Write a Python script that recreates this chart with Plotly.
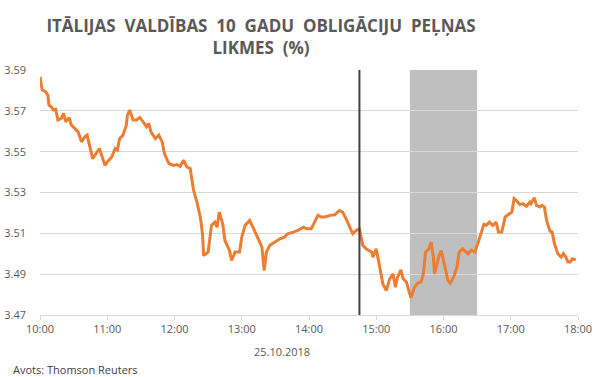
import pandas as pd
import plotly.graph_objects as go

# minutes after 10:00 on 25.10.2018 and yield values (%)
minutes = [0, 2, 5, 7, 8, 10, 12, 14, 16, 19, 21, 23, 26, 28, 31, 34, 37, 40, 42, 45,
           47, 50, 53, 55, 58, 60, 64, 67, 69, 71, 74, 77, 78, 80, 83, 86, 89, 92, 95, 97,
           99, 103, 106, 109, 111, 115, 119, 122, 125, 128, 131, 134, 137, 140, 143, 145, 146, 150, 153, 156,
           158, 160, 163, 165, 169, 171, 174, 178, 180, 183, 187, 190, 195, 198, 200, 202, 205, 210, 214, 218,
           221, 226, 230, 235, 238, 242, 245, 248, 251, 254, 259, 263, 267, 270, 273, 276, 279, 282, 285, 288,
           291, 296, 297, 300, 302, 306, 309, 312, 315, 317, 319, 322, 324, 327, 329, 331, 334, 337, 340, 342,
           344, 347, 349, 351, 352, 354, 356, 358, 361, 364, 366, 369, 372, 374, 377, 380, 382, 385, 388, 391,
           394, 396, 398, 401, 404, 407, 409, 412, 415, 418, 421, 423, 425, 428, 431, 434, 437, 438, 441, 443,
           446, 448, 450, 452, 455, 457, 459, 462, 465, 467, 469, 471, 473, 475, 478]
yields = [3.5867, 3.5802, 3.5794, 3.5777, 3.5728, 3.5720, 3.5704, 3.5707, 3.5655, 3.5663, 3.5687, 3.5646, 3.5667, 3.5630, 3.5614, 3.5597, 3.5548, 3.5573, 3.5581, 3.5515,
          3.5466, 3.5491, 3.5515, 3.5483, 3.5433, 3.5450, 3.5474, 3.5515, 3.5507, 3.5564, 3.5581, 3.5630, 3.5679, 3.5704, 3.5655, 3.5655, 3.5667, 3.5646, 3.5622, 3.5638,
          3.5597, 3.5564, 3.5581, 3.5548, 3.5491, 3.5442, 3.5433, 3.5437, 3.5428, 3.5458, 3.5425, 3.5417, 3.5311, 3.5253, 3.5180, 3.5098, 3.4991, 3.5008, 3.5139, 3.5155,
          3.5130, 3.5204, 3.5147, 3.5065, 3.5016, 3.4967, 3.5008, 3.5008, 3.5081, 3.5139, 3.5163, 3.5130, 3.5073, 3.5032, 3.4918, 3.5008, 3.5041, 3.5057, 3.5073, 3.5081,
          3.5098, 3.5106, 3.5114, 3.5130, 3.5122, 3.5122, 3.5155, 3.5188, 3.5180, 3.5180, 3.5188, 3.5191, 3.5212, 3.5204, 3.5172, 3.5130, 3.5098, 3.5114, 3.5122, 3.5041,
          3.5024, 3.5008, 3.4983, 3.5024, 3.4967, 3.4850, 3.4820, 3.4877, 3.4901, 3.4836, 3.4885, 3.4921, 3.4877, 3.4860, 3.4820, 3.4784, 3.4836, 3.4856, 3.4861, 3.4901,
          3.5008, 3.5024, 3.5057, 3.4983, 3.4901, 3.4950, 3.4990, 3.5016, 3.4950, 3.4869, 3.4856, 3.4885, 3.4934, 3.5008, 3.5024, 3.5008, 3.4999, 3.5018, 3.5008, 3.5057,
          3.5114, 3.5144, 3.5139, 3.5155, 3.5139, 3.5155, 3.5106, 3.5106, 3.5180, 3.5193, 3.5204, 3.5270, 3.5261, 3.5242, 3.5245, 3.5232, 3.5253, 3.5245, 3.5275, 3.5237,
          3.5229, 3.5237, 3.5229, 3.5163, 3.5111, 3.5106, 3.5049, 3.5000, 3.4983, 3.5000, 3.4985, 3.4959, 3.4959, 3.4975, 3.4970]

base = pd.Timestamp("2018-10-25 10:00")
times = [base + pd.Timedelta(minutes=m) for m in minutes]

event_time = "2018-10-25 14:45"
shade_start = "2018-10-25 15:30"
shade_end = "2018-10-25 16:30"

fig = go.Figure()
fig.add_trace(go.Scatter(x=times, y=yields, mode="lines",
                         line=dict(color="#ED7D31", width=3), hoverinfo="x+y"))

fig.add_shape(type="rect", xref="x", yref="y", x0=shade_start, x1=shade_end,
              y0=3.47, y1=3.59, fillcolor="#BFBFBF", line_width=0, layer="below")
fig.add_shape(type="line", xref="x", yref="y", x0=event_time, x1=event_time,
              y0=3.47, y1=3.59, line=dict(color="#404040", width=2))

fig.update_layout(
    width=600, height=377,
    margin=dict(l=40, r=22, t=70, b=62, autoexpand=False),
    paper_bgcolor="white", plot_bgcolor="white",
    showlegend=False,
    font=dict(family="Open Sans", color="#595959", size=11),
    title=dict(text="ITĀLIJAS  VALDĪBAS  10  GADU  OBLIGĀCIJU  PEĻŅAS<br>LIKMES  (%)",
               x=261 / 600, xanchor="center", y=0.915, yanchor="top",
               font=dict(family="Open Sans", size=17, color="#595959", weight="bold")),
    xaxis=dict(type="date", range=["2018-10-25 10:00", "2018-10-25 18:00"],
               dtick=3600000, tickformat="%H:%M", showgrid=False,
               showline=True, linecolor="#D9D9D9", linewidth=1,
               ticks="outside", ticklen=4, tickcolor="#D9D9D9", automargin=False,
               tickfont=dict(size=11, color="#595959"), zeroline=False),
    yaxis=dict(range=[3.47, 3.59], dtick=0.02, tick0=3.47, tickformat=".2f",
               showgrid=True, gridcolor="#D9D9D9", gridwidth=1,
               showline=False, zeroline=False, ticks="", automargin=False,
               ticklabelstandoff=13,
               tickfont=dict(size=11, color="#595959")),
)

fig.add_annotation(text="25.10.2018", xref="paper", yref="paper", x=242 / 538,
                   y=-0.11, xanchor="center", yanchor="top", showarrow=False,
                   font=dict(size=11, color="#595959"))
fig.add_annotation(text="Avots: Thomson Reuters", xref="paper", yref="paper",
                   x=-29 / 538, y=-0.185, xanchor="left", yanchor="top",
                   showarrow=False, font=dict(size=11, color="#404040"))

fig.write_html("out.html", config={"displayModeBar": False},
               post_script="document.body.style.margin='0';")
